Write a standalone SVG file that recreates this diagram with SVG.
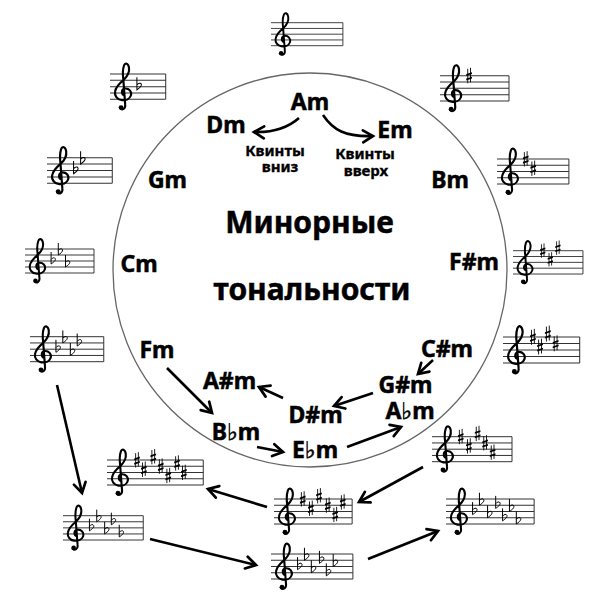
<svg xmlns="http://www.w3.org/2000/svg" xmlns:xlink="http://www.w3.org/1999/xlink" width="600" height="596" viewBox="0 0 600 596">
<style>
.lbl{font-family:"Noto Sans","DejaVu Sans",sans-serif;font-weight:bold;font-size:23px;fill:#000;stroke:#000;stroke-width:0.5;text-anchor:middle}
.big{font-family:"Noto Sans","DejaVu Sans",sans-serif;font-weight:bold;font-size:30px;fill:#000;stroke:#000;stroke-width:0.5;text-anchor:middle}
.sm{font-family:"Noto Sans","DejaVu Sans",sans-serif;font-weight:bold;font-size:15px;fill:#000;stroke:#000;stroke-width:0.35;text-anchor:middle}
.lines{fill:none;stroke:#333;stroke-width:1.6}
.arr{fill:none;stroke:#000;stroke-width:2.6;marker-end:url(#ah)}
</style>
<defs>
<marker id="ah" markerUnits="userSpaceOnUse" markerWidth="18" markerHeight="18" viewBox="0 0 18 18" refX="15" refY="9" orient="auto" overflow="visible">
<path d="M5,3 L15,9 L5,15" fill="none" stroke="#000" stroke-width="2.7" stroke-linecap="round"/>
</marker>
<g id="clef">
<path d="M16,34 C11,33 10,25 16,23 C23,22 28,28 26,34 C24,40 17,42 11,41 C4,40 0,34 1,28 C2,20 9,14 15,9 C20,4 24,-3 23,-10 C22,-17 17,-19 15,-13 C13,-7 13,0 14,8 L17,48 C18,55 12,58 9,54" fill="none" stroke="#000" stroke-width="3.4" stroke-linecap="round" stroke-linejoin="round"/>
<circle cx="10.5" cy="53" r="3.8" fill="#000"/>
</g>
<g id="sharp">
<path d="M-2.2,-11V12M2.2,-12.5V10.5" stroke="#000" stroke-width="1.4" fill="none"/>
<path d="M-4.5,-2.5L4.5,-5.5V-2.6L-4.5,0.4Z M-4.5,4.5L4.5,1.5V4.4L-4.5,7.4Z" fill="#000"/>
</g>
<g id="flat">
<path d="M-2.5,-15V5 C1,2.5 5.5,-0.5 4.5,-3.8 C3.5,-6.5 -0.5,-5.5 -2.5,-2.5" fill="none" stroke="#000" stroke-width="1.6"/>
</g>
</defs>
<rect width="600" height="596" fill="#fff"/>
<circle id="circle" cx="310" cy="270" r="197" fill="none" stroke="#666" stroke-width="1.3"/>

<g id="staff-am" transform="translate(271,22.7) scale(0.575)">
<path class="lines" d="M0,0H125M0,10H125M0,20H125M0,30H125M0,40H125M125,0V40"/>
<use xlink:href="#clef" x="7"/>
</g>
<g id="staff-dm" transform="translate(110,74) scale(0.633)">
<path class="lines" d="M0,0H88M0,10H88M0,20H88M0,30H88M0,40H88M88,0V40"/>
<use xlink:href="#clef" x="7"/>
<use xlink:href="#flat" x="45" y="20"/>
</g>
<g id="staff-gm" transform="translate(47,157.7) scale(0.64)">
<path class="lines" d="M0,0H102M0,10H102M0,20H102M0,30H102M0,40H102M102,0V40"/>
<use xlink:href="#clef" x="7"/>
<use xlink:href="#flat" x="44" y="20"/>
<use xlink:href="#flat" x="55" y="5"/>
</g>
<g id="staff-cm" transform="translate(25,249) scale(0.6)">
<path class="lines" d="M0,0H115M0,10H115M0,20H115M0,30H115M0,40H115M115,0V40"/>
<use xlink:href="#clef" x="7"/>
<use xlink:href="#flat" x="46" y="20"/>
<use xlink:href="#flat" x="58" y="5"/>
<use xlink:href="#flat" x="70" y="25"/>
</g>
<g id="staff-fm" transform="translate(30,336.7) scale(0.625)">
<path class="lines" d="M0,0H118M0,10H118M0,20H118M0,30H118M0,40H118M118,0V40"/>
<use xlink:href="#clef" x="7"/>
<use xlink:href="#flat" x="44" y="20"/>
<use xlink:href="#flat" x="55" y="5"/>
<use xlink:href="#flat" x="67" y="25"/>
<use xlink:href="#flat" x="78" y="10"/>
</g>
<g id="staff-em" transform="translate(440,75.7) scale(0.633)">
<path class="lines" d="M0,0H109M0,10H109M0,20H109M0,30H109M0,40H109M109,0V40"/>
<use xlink:href="#clef" x="7"/>
<use xlink:href="#sharp" x="46" y="0"/>
</g>
<g id="staff-bm" transform="translate(497,159) scale(0.625)">
<path class="lines" d="M0,0H115M0,10H115M0,20H115M0,30H115M0,40H115M115,0V40"/>
<use xlink:href="#clef" x="7"/>
<use xlink:href="#sharp" x="46" y="0"/>
<use xlink:href="#sharp" x="58" y="15"/>
</g>
<g id="staff-fsm" transform="translate(513,250.7) scale(0.583)">
<path class="lines" d="M0,0H120M0,10H120M0,20H120M0,30H120M0,40H120M120,0V40"/>
<use xlink:href="#clef" x="7"/>
<use xlink:href="#sharp" x="51" y="0"/>
<use xlink:href="#sharp" x="64" y="15"/>
<use xlink:href="#sharp" x="77" y="-5"/>
</g>
<g id="staff-csm" transform="translate(503,337) scale(0.65)">
<path class="lines" d="M0,0H118M0,10H118M0,20H118M0,30H118M0,40H118M118,0V40"/>
<use xlink:href="#clef" x="7"/>
<use xlink:href="#sharp" x="46" y="0"/>
<use xlink:href="#sharp" x="57" y="15"/>
<use xlink:href="#sharp" x="69" y="-5"/>
<use xlink:href="#sharp" x="81" y="10"/>
</g>
<g id="staff-gsm" transform="translate(432,436.7) scale(0.625)">
<path class="lines" d="M0,0H128M0,10H128M0,20H128M0,30H128M0,40H128M128,0V40"/>
<use xlink:href="#clef" x="7"/>
<use xlink:href="#sharp" x="46" y="0"/>
<use xlink:href="#sharp" x="59" y="15"/>
<use xlink:href="#sharp" x="73" y="-5"/>
<use xlink:href="#sharp" x="85" y="10"/>
<use xlink:href="#sharp" x="97" y="25"/>
</g>
<g id="staff-dsm" transform="translate(274,499) scale(0.625)">
<path class="lines" d="M0,0H125M0,10H125M0,20H125M0,30H125M0,40H125M125,0V40"/>
<use xlink:href="#clef" x="7"/>
<use xlink:href="#sharp" x="46" y="0"/>
<use xlink:href="#sharp" x="59" y="15"/>
<use xlink:href="#sharp" x="72" y="-5"/>
<use xlink:href="#sharp" x="86" y="10"/>
<use xlink:href="#sharp" x="98" y="25"/>
<use xlink:href="#sharp" x="110" y="5"/>
</g>
<g id="staff-asm" transform="translate(107,460) scale(0.625)">
<path class="lines" d="M0,0H154M0,10H154M0,20H154M0,30H154M0,40H154M154,0V40"/>
<use xlink:href="#clef" x="7"/>
<use xlink:href="#sharp" x="48" y="0"/>
<use xlink:href="#sharp" x="59" y="15"/>
<use xlink:href="#sharp" x="74" y="-5"/>
<use xlink:href="#sharp" x="86" y="10"/>
<use xlink:href="#sharp" x="98" y="25"/>
<use xlink:href="#sharp" x="112" y="5"/>
<use xlink:href="#sharp" x="123" y="20"/>
</g>
<g id="staff-bbm" transform="translate(63,515.7) scale(0.608)">
<path class="lines" d="M0,0H132M0,10H132M0,20H132M0,30H132M0,40H132M132,0V40"/>
<use xlink:href="#clef" x="7"/>
<use xlink:href="#flat" x="46" y="20"/>
<use xlink:href="#flat" x="58" y="5"/>
<use xlink:href="#flat" x="71" y="25"/>
<use xlink:href="#flat" x="82" y="10"/>
<use xlink:href="#flat" x="95" y="30"/>
</g>
<g id="staff-ebm" transform="translate(271,554) scale(0.625)">
<path class="lines" d="M0,0H131M0,10H131M0,20H131M0,30H131M0,40H131M131,0V40"/>
<use xlink:href="#clef" x="7"/>
<use xlink:href="#flat" x="45" y="20"/>
<use xlink:href="#flat" x="56" y="5"/>
<use xlink:href="#flat" x="67" y="25"/>
<use xlink:href="#flat" x="80" y="10"/>
<use xlink:href="#flat" x="91" y="30"/>
<use xlink:href="#flat" x="102" y="15"/>
</g>
<g id="staff-abm" transform="translate(446,499) scale(0.625)">
<path class="lines" d="M0,0H141M0,10H141M0,20H141M0,30H141M0,40H141M141,0V40"/>
<use xlink:href="#clef" x="7"/>
<use xlink:href="#flat" x="45" y="20"/>
<use xlink:href="#flat" x="56" y="5"/>
<use xlink:href="#flat" x="69" y="25"/>
<use xlink:href="#flat" x="82" y="10"/>
<use xlink:href="#flat" x="93" y="30"/>
<use xlink:href="#flat" x="104" y="15"/>
<use xlink:href="#flat" x="115" y="35"/>
</g>

<g id="labels">
<text id="k-am" class="lbl" x="310" y="110">Am</text>
<text id="k-dm" class="lbl" x="226" y="133">Dm</text>
<text id="k-em" class="lbl" x="395" y="138">Em</text>
<text id="k-gm" class="lbl" x="167.5" y="188">Gm</text>
<text id="k-bm" class="lbl" x="450" y="188">Bm</text>
<text id="k-cm" class="lbl" x="139" y="272">Cm</text>
<text id="k-fsm" class="lbl" x="474" y="270">F#m</text>
<text id="k-fm" class="lbl" x="157" y="358">Fm</text>
<text id="k-csm" class="lbl" x="447" y="357">C#m</text>
<text id="k-asm" class="lbl" x="229.5" y="389">A#m</text>
<text id="k-gsm" class="lbl" x="405.5" y="393">G#m</text>
<text id="k-dsm" class="lbl" x="315.5" y="423">D#m</text>
<text id="k-abm" class="lbl" x="410" y="419">A♭m</text>
<text id="k-bbm" class="lbl" x="236" y="440">B♭m</text>
<text id="k-ebm" class="lbl" x="315" y="458">E♭m</text>
<text class="big" x="309.5" y="233">Минорные</text>
<text class="big" x="312" y="300">тональности</text>
<text class="sm" x="275" y="156">Квинты</text>
<text class="sm" x="280" y="172">вниз</text>
<text class="sm" x="365" y="159">Квинты</text>
<text class="sm" x="366" y="175.5">вверх</text>
</g>

<g id="connectors">
<path class="arr" d="M299,118 Q282,133 254,132"/>
<path class="arr" d="M323,115 C333,130 345,137 373,136"/>
<path class="arr" d="M167,368 L212,413"/>
<path class="arr" d="M257,447 L283,452"/>
<path class="arr" d="M347,447 L401,427"/>
<path class="arr" d="M433,360 L418,374"/>
<path class="arr" d="M373,393 L334,406"/>
<path class="arr" d="M283,398 L259,387"/>
<path class="arr" d="M57,385 L82,493"/>
<path class="arr" d="M150,539 L256,565"/>
<path class="arr" d="M368,559 L438,531"/>
<path class="arr" d="M423,467 L359,502"/>
<path class="arr" d="M267,507 L208,489"/>
</g>
</svg>
